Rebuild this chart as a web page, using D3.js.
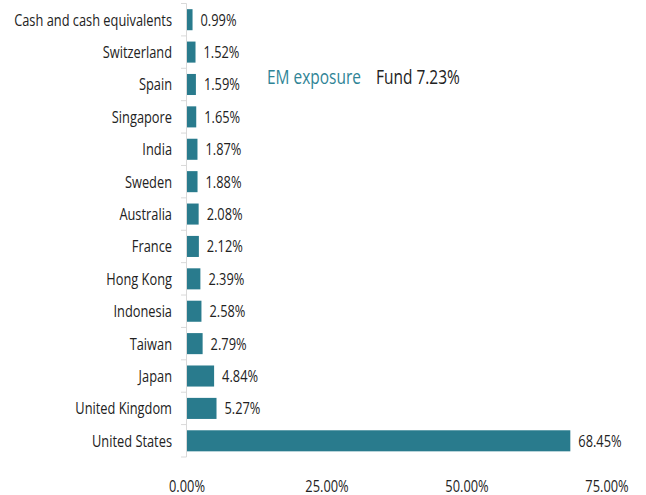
<!DOCTYPE html>
<html><head><meta charset="utf-8">
<script src="https://cdn.jsdelivr.net/npm/d3@7"></script>
<style>body{margin:0;background:#fff}svg{display:block;font-family:"Open Sans",sans-serif}</style>
</head><body><svg id="c" width="646" height="495"></svg>
<script>
const categories = ["Cash and cash equivalents","Switzerland","Spain","Singapore","India","Sweden","Australia","France","Hong Kong","Indonesia","Taiwan","Japan","United Kingdom","United States"];
const values = [0.99,1.52,1.59,1.65,1.87,1.88,2.08,2.12,2.39,2.58,2.79,4.84,5.27,68.45];
const xTicks = [0,25,50,75];
const emLabel = "EM exposure";
const fundLabel = "Fund 7.23%";

const svg = d3.select("#c");
const x = d3.scaleLinear().domain([0,75]).range([187,607]);
const y = d3.scaleBand().domain(categories).range([3.5,457]).paddingInner(0.35).paddingOuter(0.175);
const color = "#297b8d";
const fs = 17;

const probe = svg.append("text").attr("font-size",fs).text(categories[0]);
const k = 158 / probe.node().getComputedTextLength();
probe.remove();

function label(g, px, py, txt, size, fill, anchor){
  return g.append("text")
    .attr("transform",`translate(${px},${py}) scale(${k},1)`)
    .attr("dy","0.35em").attr("text-anchor",anchor||"start")
    .attr("font-size",size).attr("fill",fill).text(txt);
}

svg.selectAll("rect.bar").data(values).join("rect")
  .attr("x", x(0)).attr("y",(d,i)=>y(categories[i]))
  .attr("width", d=>x(d)-x(0)).attr("height", y.bandwidth())
  .attr("fill", color);

const ax = svg.append("g");
ax.append("line").attr("x1",186.5).attr("x2",186.5).attr("y1",y.range()[0]).attr("y2",y.range()[1]).attr("stroke","#d9d9d9");
d3.range(categories.length+1).forEach(i=>{
  const yy = y.range()[0] + i*(y.range()[1]-y.range()[0])/categories.length;
  ax.append("line").attr("x1",181).attr("x2",186.5).attr("y1",yy).attr("y2",yy).attr("stroke","#d9d9d9");
});

categories.forEach((c,i)=>label(svg,172,y(c)+y.bandwidth()/2,c,fs,"#222","end"));
values.forEach((v,i)=>label(svg,x(v)+8,y(categories[i])+y.bandwidth()/2,v.toFixed(2)+"%",fs,"#222"));
xTicks.forEach(t=>label(svg,x(t),486,t.toFixed(2)+"%",fs,"#222","middle"));

label(svg,267,77,emLabel,20.5,"#2f8496");
label(svg,376,77,fundLabel,20.5,"#222");
</script></body></html>
